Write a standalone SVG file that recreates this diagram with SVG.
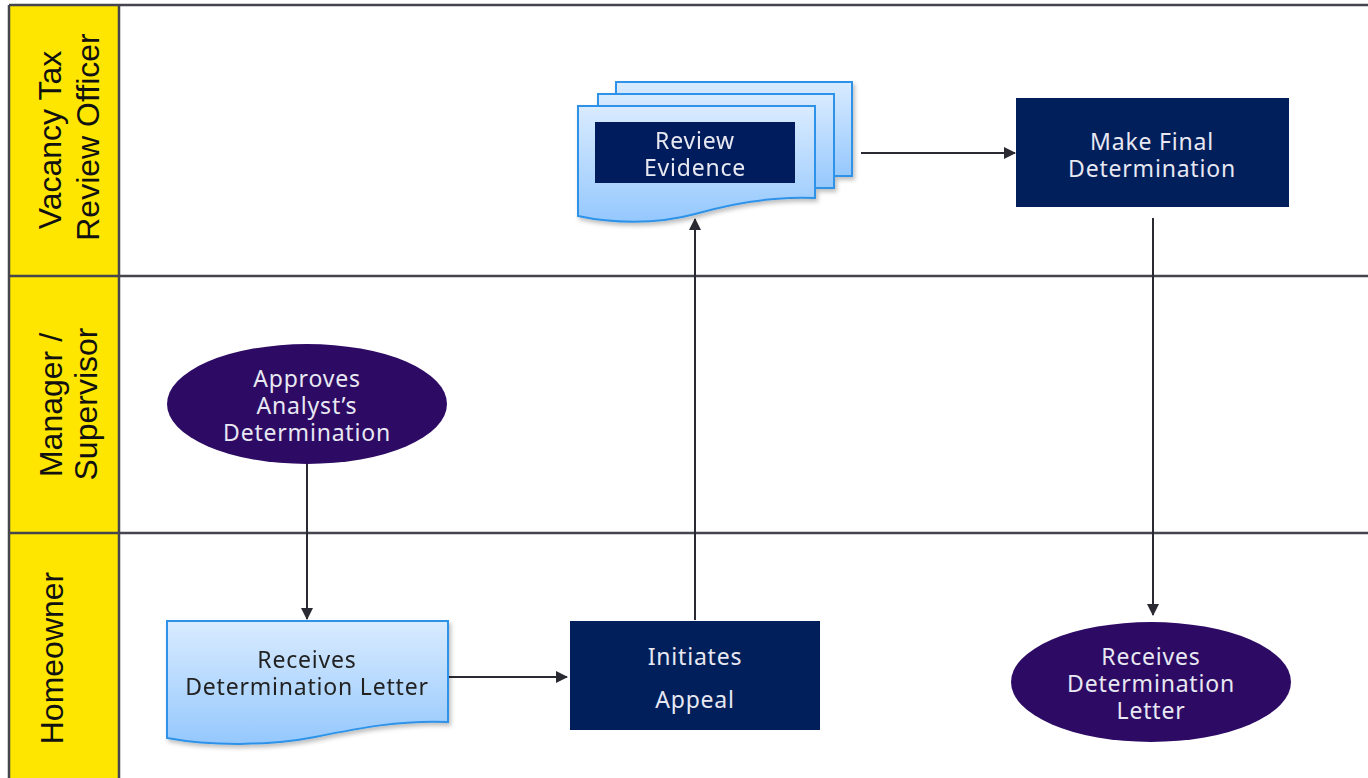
<svg xmlns="http://www.w3.org/2000/svg" width="1368" height="778" viewBox="0 0 1368 778">
<style>
.lane{fill:#FFE600}
.grid{stroke:#45454d;stroke-width:2.5;fill:none}
.lbl{font-family:"Liberation Sans",Arial,sans-serif;font-size:32px;fill:#111;text-anchor:middle}
.nt{font-family:"Noto Sans","Open Sans",sans-serif;font-size:23px;letter-spacing:0.8px;text-anchor:middle}
.light{fill:#E8E8F2}
.dark{fill:#222}
.navy{fill:#001F5B}
.purp{fill:#2D0B65}
.doc{fill:url(#docg);stroke:#2E93E8;stroke-width:2}
.conn{stroke:#2a2a33;stroke-width:2;fill:none;marker-end:url(#ah)}
</style>
<defs>
<linearGradient id="docg" x1="0" y1="0" x2="0" y2="1">
<stop offset="0" stop-color="#D9EBFF"/>
<stop offset="1" stop-color="#95C8FD"/>
</linearGradient>
<filter id="sh" x="-10%" y="-10%" width="130%" height="130%">
<feDropShadow dx="2" dy="3" stdDeviation="2" flood-color="#000" flood-opacity="0.25"/>
</filter>
<marker id="ah" viewBox="0 0 12 12" refX="11" refY="6" markerWidth="12" markerHeight="12" markerUnits="userSpaceOnUse" orient="auto">
<path d="M0,0 L12,6 L0,12 Z" fill="#2a2a33"/>
</marker>
</defs>
<rect width="1368" height="778" fill="#fff"/>
<g id="lanes">
<rect class="lane" x="9" y="5" width="110" height="773"/>
<line class="grid" x1="9" y1="5" x2="1368" y2="5"/>
<line class="grid" x1="9" y1="276" x2="1368" y2="276"/>
<line class="grid" x1="9" y1="533" x2="1368" y2="533"/>
<line class="grid" x1="9" y1="5" x2="9" y2="778"/>
<line class="grid" x1="119" y1="5" x2="119" y2="778"/>
<text class="lbl" transform="translate(61,140) rotate(-90)">Vacancy Tax</text>
<text class="lbl" transform="translate(99,137) rotate(-90)">Review Officer</text>
<text class="lbl" transform="translate(62,405) rotate(-90)">Manager /</text>
<text class="lbl" transform="translate(97,404) rotate(-90)">Supervisor</text>
<text class="lbl" transform="translate(63,658) rotate(-90)">Homeowner</text>
</g>
<g id="connectors">
<line class="conn" x1="861" y1="153" x2="1015" y2="153"/>
<line class="conn" x1="1153" y1="218" x2="1153" y2="615"/>
<line class="conn" x1="307" y1="464" x2="307" y2="619"/>
<line class="conn" x1="449" y1="677" x2="567" y2="677"/>
<line class="conn" x1="695" y1="620" x2="695" y2="219"/>
</g>
<g id="review-evidence" filter="url(#sh)">
<path class="doc" d="M616,82 H852 V176 H616 Z"/>
<path class="doc" d="M598,94 H834 V188 H598 Z"/>
<path class="doc" d="M578,106 H815 V198 C770,196 730,204 695,214 C655,225 610,223 578,216 Z"/>
<rect class="navy" x="595" y="122" width="200" height="61"/>
<text class="nt light" x="695" y="149">Review</text>
<text class="nt light" x="695" y="176">Evidence</text>
</g>
<g id="make-final-determination">
<rect class="navy" x="1016" y="98" width="273" height="109"/>
<text class="nt light" x="1152" y="150">Make Final</text>
<text class="nt light" x="1152" y="177">Determination</text>
</g>
<g id="approves">
<ellipse class="purp" cx="307" cy="404" rx="140" ry="60"/>
<text class="nt light" x="307" y="387">Approves</text>
<text class="nt light" x="307" y="414">Analyst’s</text>
<text class="nt light" x="307" y="441">Determination</text>
</g>
<g id="receives-letter-doc" filter="url(#sh)">
<path class="doc" d="M167,621 H448 V722 C400,720 360,728 315,737 C270,746 210,746 167,738 Z"/>
<text class="nt dark" x="307" y="668">Receives</text>
<text class="nt dark" x="307" y="695">Determination Letter</text>
</g>
<g id="initiates-appeal">
<rect class="navy" x="570" y="621" width="250" height="109"/>
<text class="nt light" x="695" y="665">Initiates</text>
<text class="nt light" x="695" y="708">Appeal</text>
</g>
<g id="receives-letter-end">
<ellipse class="purp" cx="1151" cy="682" rx="140" ry="60"/>
<text class="nt light" x="1151" y="665">Receives</text>
<text class="nt light" x="1151" y="692">Determination</text>
<text class="nt light" x="1151" y="719">Letter</text>
</g>
</svg>
